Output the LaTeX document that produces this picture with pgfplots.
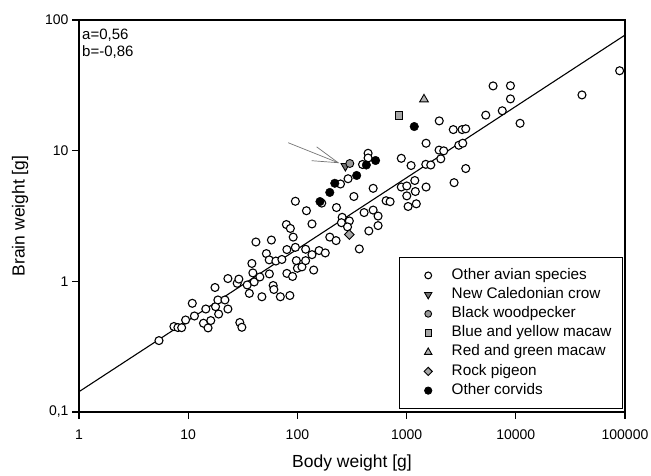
\documentclass[border=0pt]{standalone}
\usepackage{fontspec}
\setmainfont{Liberation Sans}
\usepackage{pgfplots}
\pgfplotsset{compat=1.18}
\begin{document}
\begin{tikzpicture}[x=1pt,y=1pt]
\begin{axis}[
  scale only axis, width=546pt, height=392pt,
  at={(0pt,0pt)}, anchor=south west,
  xmode=log, ymode=log,
  xmin=1, xmax=100000, ymin=0.1, ymax=100,
  xtick={1,10,100,1000,10000,100000},
  xticklabels={1,10,100,1000,10000,100000},
  ytick={0.1,1,10,100},
  yticklabels={{0,1},1,10,100},
  xminorticks=false, yminorticks=false,
  tick align=outside, major tick length=7pt,
  xtick pos=bottom, ytick pos=left,
  axis line style={line width=1.2pt},
  tick style={line width=1.1pt, black},
  tick label style={font=\fontsize{14}{14}\selectfont},
  xticklabel style={yshift=-7pt},
  xlabel={Body weight [g]}, ylabel={Brain weight [g]},
  every axis x label/.style={at={(axis description cs:0.5,-0.13)},anchor=center,font=\fontsize{17.5}{17.5}\selectfont},
  every axis y label/.style={at={(axis description cs:-0.108,0.5)},anchor=center,rotate=90,font=\fontsize{17.5}{17.5}\selectfont},
  clip=false,
  legend cell align=left,
  legend image code/.code={\path[draw=none,fill=none] (-19.3pt,0pt) (4pt,0pt); \draw[#1, every mark/.append style={scale=0.85}] plot coordinates {(0pt,0pt)};},
  legend style={at={(axis description cs:0.9963,0.396)}, anchor=north east,
    draw=black, line width=0.8pt, font=\fontsize{15.3}{15.3}\selectfont,
    inner xsep=10pt, inner ysep=10pt, column sep=18.4pt, row sep=2.7pt,
    nodes={inner sep=1pt, text height=11pt, text depth=3.5pt}},
]
% regression line
\addplot[black, line width=1.1pt, forget plot] coordinates {(1,0.143) (100000,76.7)};
% Other avian species
\addplot[only marks, mark=*, mark size=4pt, mark options={fill=white, draw=black, line width=1.1pt}] coordinates {
(5.40,0.352) (7.40,0.451) (8.05,0.443) (8.71,0.442) (9.47,0.506) (10.9,0.679)
(11.4,0.543) (13.8,0.478) (14.5,0.614) (15.2,0.440) (16.1,0.501) (17.6,0.897)
(17.8,0.640) (18.7,0.720) (19.0,0.562) (21.7,0.720) (23.1,0.614) (23.1,1.05)
(28.1,0.966) (29.1,1.04) (29.7,0.484) (31.0,0.445) (34.7,0.938) (36.3,0.809)
(38.3,1.37) (39.1,1.16) (40.2,0.989) (41.7,2.00) (45.3,1.08) (47.3,0.762)
(52.0,1.63) (55.2,1.46) (55.4,1.14) (57.8,2.07) (60.0,0.929) (60.9,0.866)
(63.5,1.43) (69.8,0.762) (72.1,1.47) (79.3,2.72) (80.1,1.15) (80.1,1.75)
(85.3,0.779) (86.2,2.54) (90.3,1.09) (91.5,2.18) (95.8,1.82) (97.8,1.44)
(100,1.26) (95.8,4.10) (110,1.29) (119,1.76) (119,1.44) (121,3.47)
(136,2.75) (136,1.60) (141,1.22) (158,1.72) (180,1.65) (198,2.18)
(226,2.05) (228,3.67) (167,3.97) (248,5.56) (257,3.09) (253,2.81)
(291,6.10) (299,2.90) (288,2.61) (329,4.46) (369,1.77) (395,7.84)
(444,9.55) (444,8.79) (408,3.36) (494,3.51) (548,3.16) (548,2.67)
(451,2.43) (494,5.15) (649,4.14) (706,4.07) (894,8.74) (894,5.27)
(1004,5.37) (1189,5.91) (1508,5.27) (1202,4.87) (1004,4.51) (1227,3.92)
(1032,3.74) (1099,7.70) (1508,11.4) (1499,7.86) (1665,7.77) (1991,16.9)
(1983,10.1) (2188,9.97) (2056,8.66) (2675,14.5) (3221,14.5) (3481,14.7)
(3005,11.0) (3268,11.4) (3481,7.30) (2722,5.69) (5308,18.7) (6194,31.3)
(8933,31.4) (8933,24.9) (7516,20.2) (10940,16.2) (40360,26.7) (89330,40.9)
};
\addlegendentry{Other avian species}
\addplot[only marks, mark=triangle*, mark size=5pt, mark options={rotate=180, fill=black!55, draw=black, line width=0.9pt}] coordinates {(275,7.63)};
\addlegendentry{New Caledonian crow}
\addplot[only marks, mark=*, mark size=4pt, mark options={fill=black!40, draw=black, line width=0.9pt}] coordinates {(302,7.98)};
\addlegendentry{Black woodpecker}
\addplot[only marks, mark=square*, mark size=3.8pt, mark options={fill=black!35, draw=black, line width=0.9pt}] coordinates {(854,18.7)};
\addlegendentry{Blue and yellow macaw}
\addplot[only marks, mark=triangle*, mark size=5pt, mark options={fill=black!30, draw=black, line width=0.9pt}] coordinates {(1443,24.7)};
\addlegendentry{Red and green macaw}
\addplot[only marks, mark=square*, mark size=3.4pt, mark options={rotate=45, fill=black!35, draw=black, line width=0.9pt}] coordinates {(299,2.28)};
\addlegendentry{Rock pigeon}
\addplot[only marks, mark=*, mark size=4.3pt, mark options={fill=black, draw=black}] coordinates {
(161,4.08) (198,4.79) (220,5.63) (349,6.46) (428,7.77) (520,8.41) (1175,15.3)};
\addlegendentry{Other corvids}
% arrow
\draw[black!55, line width=0.7pt] (axis cs:82.3,11.5) -- (axis cs:236,8.09);
\draw[black!55, line width=0.7pt] (axis cs:150,10.7) -- (axis cs:236,8.09) -- (axis cs:135,8.38);
% annotation
\node[anchor=north west, align=left, inner sep=0pt, font=\fontsize{15}{16.7}\selectfont]
  at (axis description cs:0.0055,0.978) {a=0,56\\b=-0,86};
\end{axis}
\pgfresetboundingbox
\path[use as bounding box] (-79pt,-64pt) rectangle (572pt,412pt);
\end{tikzpicture}
\end{document}
